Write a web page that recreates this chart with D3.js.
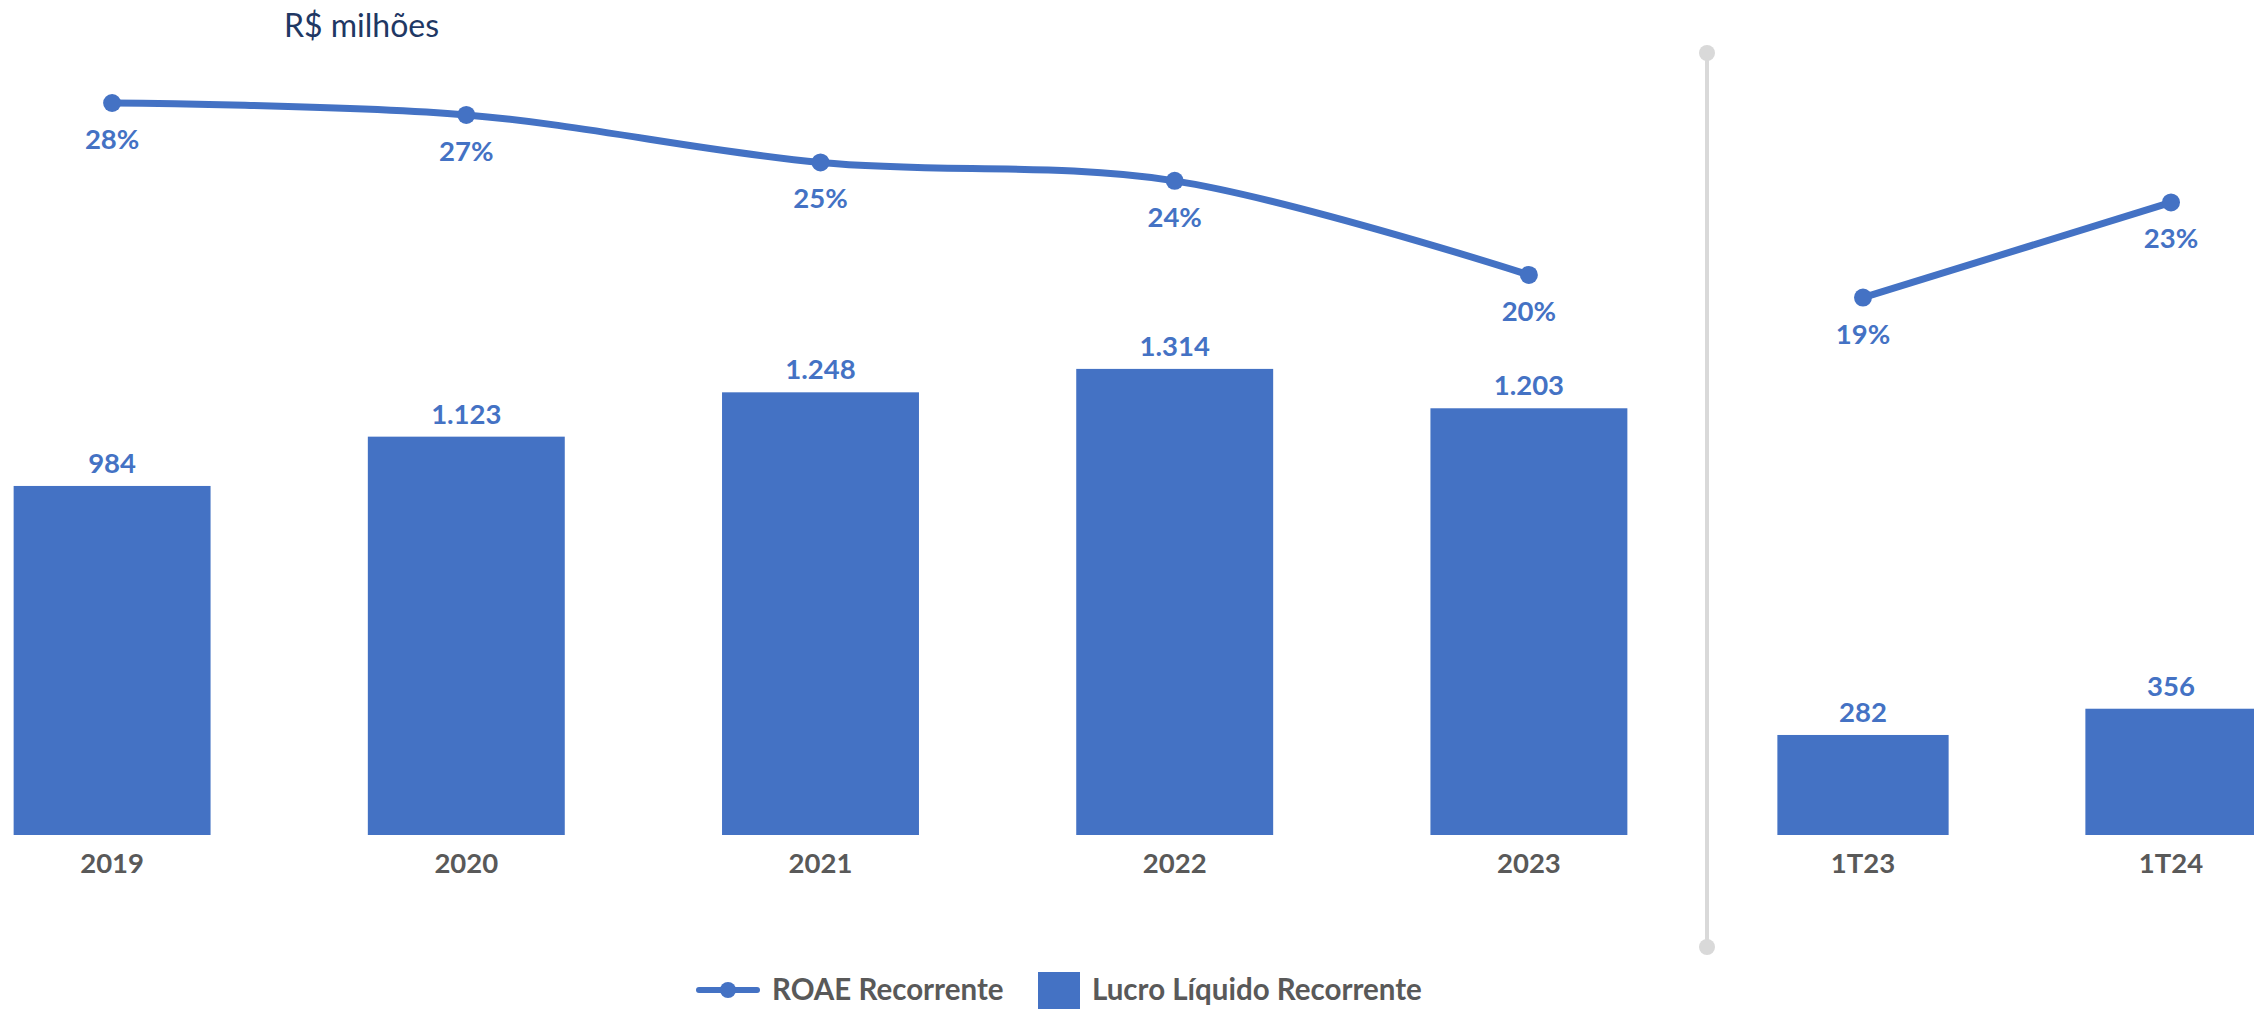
<!DOCTYPE html>
<html>
<head>
<meta charset="utf-8">
<script src="https://cdn.jsdelivr.net/npm/d3@7"></script>
<style>
    body { margin: 0; background: #fff; }
    svg { display: block; font-family: Lato, "Open Sans", sans-serif; }
</style>
</head>
<body>
<div id="chart"></div>
<script>
// annual figures
var years = ["2019", "2020", "2021", "2022", "2023"];
var lucroAnual = [984, 1123, 1248, 1314, 1203];
var roaeAnual = [28.0, 27.45, 25.25, 24.4, 20.05];

// quarterly figures
var quarters = ["1T23", "1T24"];
var lucroTri = [282, 356];
var roaeTri = [19.0, 23.4];

var legendLabels = ["ROAE Recorrente", "Lucro Líquido Recorrente"];

var blue = "#4472c4";
var grey = "#595959";

var width = 2254,
    height = 1009;

var svg = d3.select("#chart").append("svg")
    .attr("width", width)
    .attr("height", height);

// scales
var xYears = d3.scaleBand().domain(years).range([-65, 1706]).paddingInner(0.444).paddingOuter(0.222);
var xQuarters = d3.scaleBand().domain(quarters).range([1709, 2325]).paddingInner(0.444).paddingOuter(0.222);

var yBar = d3.scaleLinear().domain([0, 2354]).range([835, 0]);
var yLine = d3.scaleLinear().domain([19, 28]).range([297.6, 103]);

var fmtLucro = function (v) { return d3.format(",")(v).replace(",", "."); };
var fmtPct = function (v) { return d3.format(".0f")(v) + "%"; };

function drawPanel(x, cats, lucro, roae, curve) {
    var g = svg.append("g");
    var bars = cats.map(function (c, i) { return { cat: c, lucro: lucro[i], roae: roae[i] }; });

    g.selectAll("rect")
        .data(bars)
        .enter().append("rect")
        .attr("x", function (d) { return x(d.cat); })
        .attr("y", function (d) { return yBar(d.lucro); })
        .attr("width", x.bandwidth())
        .attr("height", function (d) { return yBar(0) - yBar(d.lucro); })
        .attr("fill", blue);

    // value above each bar
    g.selectAll(".val")
        .data(bars)
        .enter().append("text")
        .attr("class", "val")
        .attr("x", function (d) { return x(d.cat) + x.bandwidth() / 2; })
        .attr("y", function (d) { return yBar(d.lucro) - 13; })
        .attr("text-anchor", "middle")
        .attr("font-size", 27.5)
        .attr("font-weight", "bold")
        .attr("fill", blue)
        .text(function (d) { return fmtLucro(d.lucro); });

    // category axis, no line or ticks
    var axis = g.append("g")
        .attr("transform", "translate(0," + yBar(0) + ")")
        .call(d3.axisBottom(x).tickSize(0).tickPadding(18));
    axis.select(".domain").remove();
    axis.selectAll("text")
        .attr("font-family", "Lato, sans-serif")
        .attr("font-size", 27.5)
        .attr("font-weight", "bold")
        .attr("fill", grey);

    var line = d3.line()
        .x(function (d) { return x(d.cat) + x.bandwidth() / 2; })
        .y(function (d) { return yLine(d.roae); })
        .curve(curve);

    g.append("path")
        .datum(bars)
        .attr("d", line)
        .attr("fill", "none")
        .attr("stroke", blue)
        .attr("stroke-width", 7)
        .attr("stroke-linejoin", "round");

    g.selectAll(".dot")
        .data(bars)
        .enter().append("circle")
        .attr("class", "dot")
        .attr("cx", function (d) { return x(d.cat) + x.bandwidth() / 2; })
        .attr("cy", function (d) { return yLine(d.roae); })
        .attr("r", 9)
        .attr("fill", blue);

    g.selectAll(".pct")
        .data(bars)
        .enter().append("text")
        .attr("class", "pct")
        .attr("x", function (d) { return x(d.cat) + x.bandwidth() / 2; })
        .attr("y", function (d) { return yLine(d.roae) + 46; })
        .attr("text-anchor", "middle")
        .attr("font-size", 27.5)
        .attr("font-weight", "bold")
        .attr("fill", blue)
        .text(function (d) { return fmtPct(d.roae); });
}

drawPanel(xYears, years, lucroAnual, roaeAnual, d3.curveCatmullRom.alpha(0.5));
drawPanel(xQuarters, quarters, lucroTri, roaeTri, d3.curveLinear);

// separator between annual and quarterly
svg.append("line")
    .attr("x1", 1707).attr("x2", 1707)
    .attr("y1", 53).attr("y2", 947)
    .attr("stroke", "#d9d9d9")
    .attr("stroke-width", 4);
svg.selectAll(".sepEnd")
    .data([53, 947])
    .enter().append("circle")
    .attr("cx", 1707)
    .attr("cy", function (d) { return d; })
    .attr("r", 8)
    .attr("fill", "#d9d9d9");

// unit title
svg.append("text")
    .attr("x", 284)
    .attr("y", 37)
    .attr("font-size", 32)
    .attr("fill", "#1f3864")
    .text("R$ milhões");

// legend
var legend = svg.append("g");
legend.append("line")
    .attr("x1", 699).attr("x2", 757)
    .attr("y1", 990).attr("y2", 990)
    .attr("stroke", blue)
    .attr("stroke-width", 6)
    .attr("stroke-linecap", "round");
legend.append("circle")
    .attr("cx", 728).attr("cy", 990)
    .attr("r", 8)
    .attr("fill", blue);
legend.append("text")
    .attr("x", 772).attr("y", 1000)
    .attr("font-size", 29.5)
    .attr("font-weight", "bold")
    .attr("fill", grey)
    .text(legendLabels[0]);
legend.append("rect")
    .attr("x", 1038).attr("y", 972)
    .attr("width", 42).attr("height", 40)
    .attr("fill", blue);
legend.append("text")
    .attr("x", 1092).attr("y", 1000)
    .attr("font-size", 29.5)
    .attr("font-weight", "bold")
    .attr("fill", grey)
    .text(legendLabels[1]);
</script>
</body>
</html>
